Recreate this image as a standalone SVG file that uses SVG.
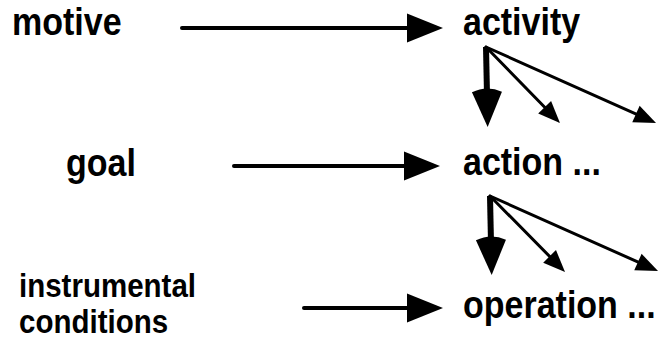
<svg xmlns="http://www.w3.org/2000/svg" width="660" height="339" viewBox="0 0 660 339">
<defs>
<style>
text{font-family:"Liberation Sans",Arial,sans-serif;font-weight:bold;fill:#000}
.big{font-size:34px}
.small{font-size:29.5px}
.h{stroke:#000;stroke-width:4;fill:none;stroke-linecap:round}
.d{stroke:#000;stroke-width:6;fill:none}
.t{stroke:#000;stroke-width:3;fill:none;stroke-linecap:round}
</style>
<marker id="ah" markerUnits="userSpaceOnUse" markerWidth="40" markerHeight="32" viewBox="-2 -16 40 32" refX="23" refY="0" orient="auto">
<path d="M0,-14.5 L36,0 L0,14.5 Z" fill="#000"/>
</marker>
<marker id="dh" markerUnits="userSpaceOnUse" markerWidth="46" markerHeight="34" viewBox="-8 -17 46 34" refX="3" refY="0" orient="auto">
<path d="M0,-15 Q-7,0 0,15 L35,0 Z" fill="#000"/>
</marker>
<marker id="th" markerUnits="userSpaceOnUse" markerWidth="26" markerHeight="22" viewBox="-2 -11 26 22" refX="12" refY="0" orient="auto">
<path d="M0,-9 L22,0 L0,9 Z" fill="#000"/>
</marker>
</defs>
<g id="motive"><text class="big" transform="translate(12,35) scale(1,1.13)">motive</text></g>
<g id="activity"><text class="big" transform="translate(463,35) scale(1,1.13)">activity</text></g>
<g id="goal"><text class="big" transform="translate(66,176) scale(1,1.13)">goal</text></g>
<g id="action"><text class="big" transform="translate(463,175) scale(1,1.13)">action ...</text></g>
<g id="conditions"><text class="small" transform="translate(19,296.5) scale(1,1.1)">instrumental</text><text class="small" transform="translate(19,332.5) scale(1,1.1)">conditions</text></g>
<g id="operation"><text class="big" transform="translate(463,318) scale(1,1.13)">operation ...</text></g>
<g id="connectors">
<line class="h" x1="182" y1="28" x2="430" y2="28" marker-end="url(#ah)"/>
<line class="h" x1="234" y1="166" x2="427" y2="166" marker-end="url(#ah)"/>
<line class="h" x1="304" y1="308" x2="430" y2="308" marker-end="url(#ah)"/>
<line class="d" x1="486" y1="47" x2="487" y2="95" marker-end="url(#dh)"/>
<line class="t" x1="486" y1="47" x2="553" y2="115.8" marker-end="url(#th)"/>
<line class="t" x1="486" y1="47" x2="646.9" y2="118.9" marker-end="url(#th)"/>
<line class="d" x1="490" y1="196" x2="491" y2="243" marker-end="url(#dh)"/>
<line class="t" x1="490" y1="196" x2="558" y2="264.9" marker-end="url(#th)"/>
<line class="t" x1="490" y1="196" x2="648.9" y2="266.9" marker-end="url(#th)"/>
</g>
</svg>
